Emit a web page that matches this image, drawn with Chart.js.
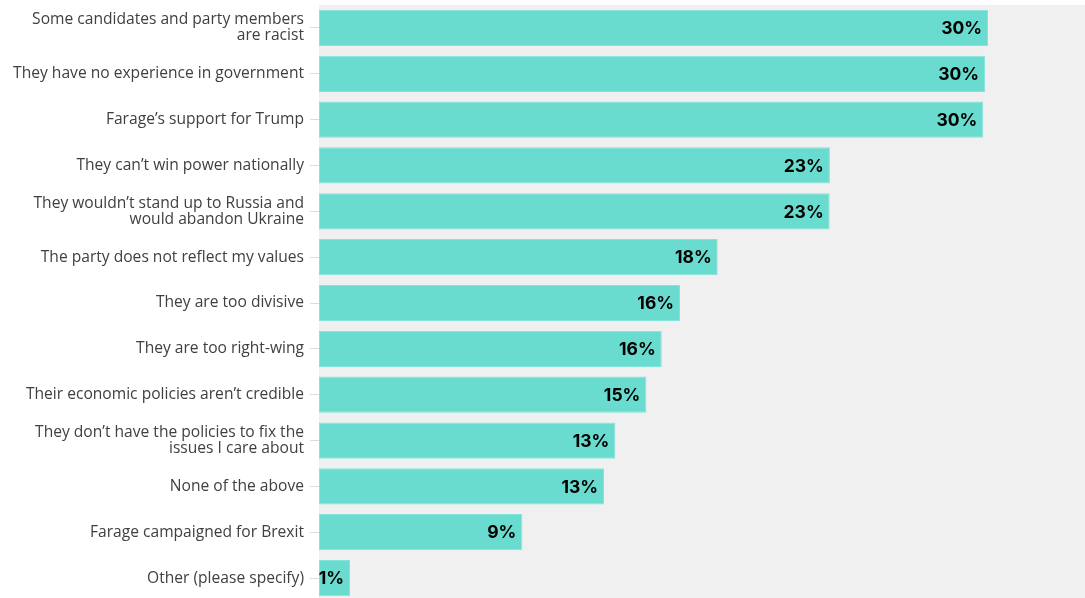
<!DOCTYPE html>
<html>
<head>
<meta charset="utf-8">
<script src="https://cdn.jsdelivr.net/npm/chart.js@4"></script>
<style>
  html, body { margin: 0; padding: 0; background: #fff; overflow: hidden; }
  #wrap { position: relative; width: 1085px; height: 601px; }
</style>
</head>
<body>
<div id="wrap"><canvas id="chart01"></canvas></div>
<script>
// reasons not to vote Reform, share of respondents
var categories = [
  ['Some candidates and party members', 'are racist'],
  'They have no experience in government',
  'Farage\u2019s support for Trump',
  'They can\u2019t win power nationally',
  ['They wouldn\u2019t stand up to Russia and', 'would abandon Ukraine'],
  'The party does not reflect my values',
  'They are too divisive',
  'They are too right-wing',
  'Their economic policies aren\u2019t credible',
  ['They don\u2019t have the policies to fix the', 'issues I care about'],
  'None of the above',
  'Farage campaigned for Brexit',
  'Other (please specify)'
];
var values = [30.0, 29.87, 29.79, 22.91, 22.9, 17.88, 16.19, 15.37, 14.68, 13.29, 12.78, 9.12, 1.39];
var valueLabels = ['30%', '30%', '30%', '23%', '23%', '18%', '16%', '16%', '15%', '13%', '13%', '9%', '1%'];

// grey panel behind the plot area
var plotBackground = {
  id: 'plotBackground',
  beforeDraw: function(chart) {
    var a = chart.chartArea, c = chart.ctx;
    c.save();
    c.fillStyle = '#f0f0f0';
    c.fillRect(a.left, a.top, a.right - a.left, a.bottom - a.top);
    c.restore();
  }
};

// percentage written at the end of each bar
var barLabels = {
  id: 'barLabels',
  afterDatasetsDraw: function(chart) {
    var c = chart.ctx;
    var meta = chart.getDatasetMeta(0);
    c.save();
    c.font = 'bold 17.5px Inter';
    c.fillStyle = '#000';
    c.textAlign = 'right';
    c.textBaseline = 'middle';
    meta.data.forEach(function(bar, i) {
      c.fillText(valueLabels[i], bar.x - 6, bar.y + 1);
    });
    c.restore();
  }
};

var ctx = document.getElementById('chart01');
var myBarChart = new Chart(ctx, {
  type: 'bar',
  data: {
    labels: categories,
    datasets: [{
      data: values,
      backgroundColor: 'rgb(106, 219, 207)',
      borderColor: 'rgb(130, 228, 218)',
      borderWidth: 1,
      borderSkipped: false,
      categoryPercentage: 1,
      barPercentage: 0.79
    }]
  },
  options: {
    indexAxis: 'y',
    responsive: true,
    maintainAspectRatio: false,
    animation: false,
    layout: { padding: { top: 5, left: 0, right: 0, bottom: 0 } },
    plugins: {
      legend: { display: false },
      tooltip: { enabled: false }
    },
    scales: {
      x: {
        display: false,
        min: 0,
        max: 34.35
      },
      y: {
        afterFit: function(scale) {
          scale.width = 319;
          scale.paddingTop = 0;
          scale.paddingBottom = 0;
        },
        border: { display: false },
        grid: {
          offset: false,
          drawOnChartArea: false,
          tickLength: 9,
          color: '#dcdcdc'
        },
        ticks: {
          padding: 6,
          color: '#404040',
          font: { family: 'Open Sans', size: 15.6, lineHeight: 1.03 }
        }
      }
    }
  },
  plugins: [plotBackground, barLabels]
});
</script>
</body>
</html>
